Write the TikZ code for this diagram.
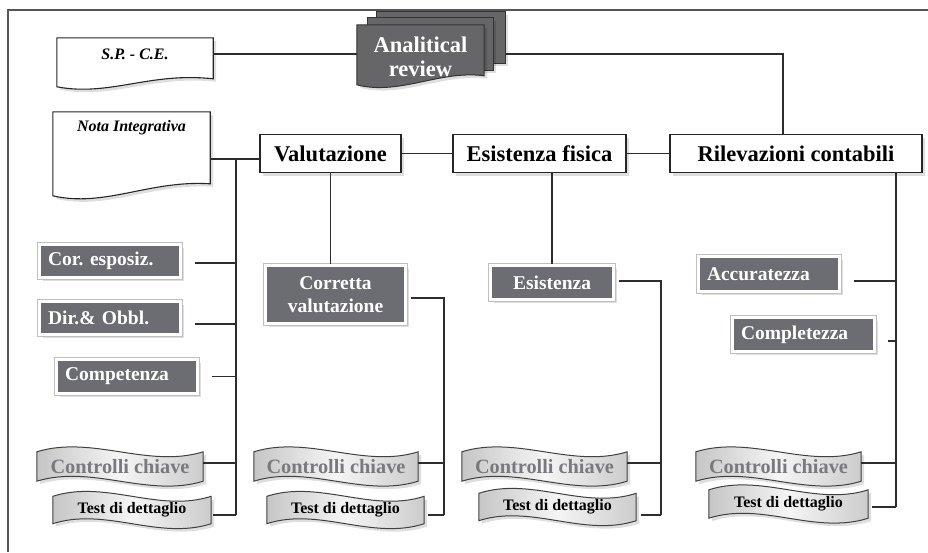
\documentclass[tikz,border=0pt]{standalone}
\usepackage{fontspec}
\setmainfont{Liberation Serif}
\usetikzlibrary{calc,shadows,backgrounds}
\definecolor{boxgray}{RGB}{108,109,114}
\definecolor{argray}{RGB}{102,102,104}
\definecolor{linec}{RGB}{45,45,45}
\definecolor{ckgray}{RGB}{122,122,126}
\definecolor{framec}{RGB}{85,85,85}
\newcommand{\wavedraw}[2][]{%
  \path[#1] (#2.north west)
    .. controls ($(#2.north west)!0.333!(#2.north east)+(0,-17)$) and ($(#2.north west)!0.667!(#2.north east)+(0,17)$) .. (#2.north east)
    -- (#2.south east)
    .. controls ($(#2.south west)!0.667!(#2.south east)+(0,17)$) and ($(#2.south west)!0.333!(#2.south east)+(0,-17)$) .. (#2.south west)
    -- cycle;}
\frenchspacing
\begin{document}
\begin{tikzpicture}[x=1pt,y=-1pt,
  conn/.style={draw=linec, line width=1.2pt},
  shad/.style={drop shadow={fill=black, opacity=0.13, shadow xshift=3pt, shadow yshift=-3pt}},
  wbox/.style={draw=black!85, line width=1.2pt, fill=white, shad, minimum height=38pt, inner sep=0pt, font=\fontsize{22.5}{24}\selectfont\bfseries},
  gbox/.style={shad, preaction={draw=gray!50, line width=5pt}, fill=boxgray, draw=white, line width=3pt, text=white, inner xsep=8.5pt, inner ysep=0pt, font=\fontsize{19.5}{23}\selectfont\bfseries},
  docn/.style={inner sep=0pt, font=\fontsize{16}{18}\selectfont\bfseries\itshape},
  docshape/.style={fill=white, draw=black!85, line width=1.1pt, shad},
  arshape/.style={fill=argray, draw=black!80, line width=1pt, shad},
  ckn/.style={inner sep=0pt, minimum height=29pt, text=ckgray, font=\fontsize{20.3}{22}\selectfont\bfseries},
  tdn/.style={inner sep=0pt, minimum height=27pt, font=\fontsize{16}{18}\selectfont\bfseries},
  waveshape/.style={shad, draw=black!75, line width=1pt, left color=gray!45, right color=gray!40, middle color=gray!8}
]
\useasboundingbox (0,0) rectangle (928,552);

% documents
\node[docn, minimum width=156pt, minimum height=32pt] (sp) at (135,54) {S.P. - C.E.};
\node[docn, minimum width=157pt, minimum height=32pt] (nota) at (131.5,128) {Nota Integrativa};

% analitical review stack
\node[inner sep=0pt, minimum width=128pt, minimum height=51pt] (ar3) at (441,37.5) {};
\node[inner sep=0pt, minimum width=125pt, minimum height=52pt] (ar2) at (430.5,44) {};
\node[inner sep=0pt, minimum width=127pt, minimum height=63pt, text=white, align=center, font=\fontsize{22.5}{24}\selectfont\bfseries] (ar) at (420.5,56.5) {Analitical\\review};

% white boxes
\node[wbox, minimum width=141pt] (val) at (330.5,153.5) {Valutazione};
\node[wbox, minimum width=173pt] (esf) at (539.5,153.5) {Esistenza fisica};
\node[wbox, minimum width=252pt] (ril) at (796,153.5) {Rilevazioni contabili};

% grey boxes
\node[gbox, text width=124pt, align=left, minimum height=33pt] (cor) at (110,261) {Cor. esposiz.};
\node[gbox, text width=124pt, align=left, minimum height=33pt] (dir) at (110,318) {Dir.\& Obbl.};
\node[gbox, text width=124pt, align=left, minimum height=34pt] (comp) at (127,376.5) {Competenza};
\node[gbox, text width=123pt, align=center, minimum height=58pt] (cv) at (335.5,294.5) {Corretta\\valutazione};
\node[gbox, text width=106pt, align=center, minimum height=34pt] (es) at (552,282.5) {Esistenza};
\node[gbox, text width=124pt, align=left, minimum height=35pt] (acc) at (769,274) {Accuratezza};
\node[gbox, text width=125pt, align=left, minimum height=34pt] (cmpl) at (803.5,334.5) {Completezza};

% wave boxes
\node[ckn, minimum width=166pt] (ck1) at (120,466.5) {Controlli chiave};
\node[ckn, minimum width=164pt] (ck2) at (336,466.5) {Controlli chiave};
\node[ckn, minimum width=165pt] (ck3) at (544.5,466.5) {Controlli chiave};
\node[ckn, minimum width=165pt] (ck4) at (778.5,466.5) {Controlli chiave};
\node[tdn, minimum width=158pt] (td1) at (132,510) {Test di dettaglio};
\node[tdn, minimum width=157pt] (td2) at (345.5,510) {Test di dettaglio};
\node[tdn, minimum width=157pt] (td3) at (557.5,507) {Test di dettaglio};
\node[tdn, minimum width=159pt, minimum height=28pt] (td4) at (788.5,504) {Test di dettaglio};

\begin{scope}[on background layer]
  \draw[draw=framec, line width=1.4pt] (928,10) -- (8,10) -- (8,552);
  % documents
  \path[docshape] (sp.north west) -- (sp.north east) -- ($(sp.north east)+(0,41)$)
    .. controls ($(sp.north west)+(93,34)$) and ($(sp.north west)+(53,59)$) .. ($(sp.north west)+(0,49)$) -- cycle;
  \path[docshape] (nota.north west) -- (nota.north east) -- ($(nota.north east)+(0,72)$)
    .. controls ($(nota.north west)+(97,68)$) and ($(nota.north west)+(52,96)$) .. ($(nota.north west)+(0,84)$) -- cycle;
  % analitical stack
  \path[arshape] (ar3.north west) rectangle (ar3.south east);
  \path[arshape] (ar2.north west) rectangle (ar2.south east);
  \path[arshape] (ar.north west) -- (ar.north east) -- ($(ar.north east)+(0,51)$)
    .. controls ($(ar.north west)+(83,45)$) and ($(ar.north west)+(43,71)$) .. ($(ar.north west)+(0,60)$) -- cycle;
  % waves
  \wavedraw[waveshape]{ck1}
  \wavedraw[waveshape]{ck2}
  \wavedraw[waveshape]{ck3}
  \wavedraw[waveshape]{ck4}
  \wavedraw[waveshape]{td1}
  \wavedraw[waveshape]{td2}
  \wavedraw[waveshape]{td3}
  \wavedraw[waveshape]{td4}
\end{scope}

% connectors top
\coordinate (row1) at (0,54);
\draw[conn] (sp.east |- row1) -- (ar.west |- row1);
\draw[conn] (ar3.east |- row1) -| ([xshift=-13pt]ril.north);
\coordinate (n1) at ($(nota.east)+(0,31)$);
\draw[conn] (n1) -- (n1 -| val.west);
\draw[conn] (val.east) -- (esf.west);
\draw[conn] (esf.east) -- (ril.west);

% column 1
\coordinate (t1a) at (236,159);
\coordinate (t1b) at (236,515);
\draw[conn] (t1a) -- (t1b);
\coordinate (b1) at ($(cor.east)+(12.5,2)$);
\draw[conn] (b1) -- (b1 -| t1a);
\coordinate (b2) at ($(dir.east)+(12.5,6)$);
\draw[conn] (b2) -- (b2 -| t1a);
\coordinate (b3) at ($(comp.east)+(12.5,0)$);
\draw[conn] (b3) -- (b3 -| t1a);
\coordinate (b4) at ($(ck1.east)+(0,-3.5)$);
\draw[conn] (b4) -- (b4 -| t1a);
\coordinate (b5) at ($(td1.east)+(2,5)$);
\draw[conn] (b5) -- (b5 -| t1a);

% column 2
\draw[conn] (val.south) -- (val.south |- cv.north);
\coordinate (t2a) at ($(cv.east)+(3.5,3.5)$);
\coordinate (t2b) at (444,515);
\draw[conn] (t2a) -| (t2b);
\coordinate (c1) at ($(ck2.east)+(0,-3.5)$);
\draw[conn] (c1) -- (c1 -| t2b);
\coordinate (c2) at ($(td2.east)+(4,5)$);
\draw[conn] (c2) -- (c2 -| t2b);

% column 3
\draw[conn] (es.north) -- (es.north |- esf.south);
\coordinate (t3a) at ($(es.east)+(3.5,-1.5)$);
\coordinate (t3b) at (661,515);
\draw[conn] (t3a) -| (t3b);
\coordinate (d1) at ($(ck3.east)+(0,-3.5)$);
\draw[conn] (d1) -- (d1 -| t3b);
\coordinate (d2) at ($(td3.east)+(5,8)$);
\draw[conn] (d2) -- (d2 -| t3b);

% column 4
\coordinate (t4a) at ($(ril.south)+(100,0)$);
\coordinate (t4b) at (896,507);
\draw[conn] (t4a) -- (t4b);
\coordinate (e1) at ($(acc.east)+(12.5,7)$);
\draw[conn] (e1) -- (e1 -| t4a);
\coordinate (e2) at ($(cmpl.east)+(11.5,6.5)$);
\draw[conn] (e2) -- (e2 -| t4a);
\coordinate (e3) at ($(ck4.east)+(0,-3.5)$);
\draw[conn] (e3) -- (e3 -| t4a);
\coordinate (e4) at ($(td4.east)+(4,3)$);
\draw[conn] (e4) -- (e4 -| t4a);
\end{tikzpicture}
\end{document}
